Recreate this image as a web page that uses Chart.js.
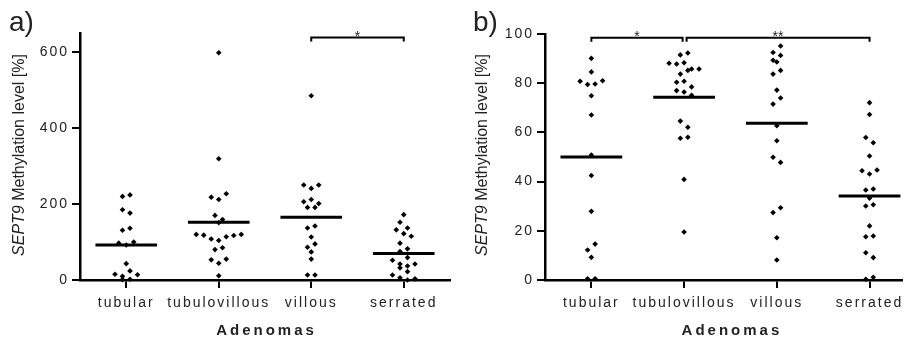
<!DOCTYPE html>
<html>
<head>
<meta charset="utf-8">
<title>SEPT9 methylation in adenomas</title>
<script src="https://cdn.jsdelivr.net/npm/chart.js@4.4.1/dist/chart.umd.min.js"></script>
<style>
  html, body { margin: 0; padding: 0; background: #fff; }
  #wrap { position: relative; width: 909px; height: 338px; }
  canvas { position: absolute; top: 0; }
  #panelA { left: 0; }
  #panelB { left: 454px; }
</style>
</head>
<body>
<div id="wrap">
  <canvas id="panelA" width="454" height="338"></canvas>
  <canvas id="panelB" width="455" height="338"></canvas>
</div>
<script>
const categories = ['tubular', 'tubulovillous', 'villous', 'serrated'];

// a) methylation level [%], one value per adenoma (read off the dot plot)
const tubularA = [220, 224, 185, 176, 131, 136, 97, 92, 100, 43, 15, 10, 24, 14, 1, 2];
const tubulovillousA = [598, 319, 218, 212, 227, 170, 151, 159, 120, 118, 108, 104, 114, 117, 120, 80, 85, 53, 44, 55, 11];
const villousA = [485, 250, 241, 250, 206, 212, 201, 191, 191, 137, 142, 113, 86, 95, 74, 55, 13, 13];
const serratedA = [172, 152, 132, 137, 122, 115, 97, 82, 75, 59, 52, 42, 32, 37, 42, 22, 13, 6, 0, 3];
const meansA = [92, 152, 165, 70];
const ticksA = [0, 200, 400, 600];

// b) methylation level [%]
const tubularB = [90.1, 84.6, 80.8, 79.5, 79.7, 81.0, 74.9, 67.1, 50.8, 42.5, 27.9, 12.2, 14.6, 9.2, 0.5, 0.5];
const tubulovillousB = [91.5, 92.3, 88.1, 87.8, 88.3, 85.8, 83.7, 85.2, 85.8, 80.4, 80.8, 77.0, 78.5, 76.4, 75.1, 64.6, 62.1, 57.6, 58.0, 40.9, 19.5];
const villousB = [92.5, 95.1, 89.3, 91.3, 88.6, 83.7, 85.2, 77.2, 71.5, 74.0, 62.7, 56.6, 49.9, 47.8, 27.4, 29.4, 17.2, 8.1];
const serratedB = [72.1, 67.3, 57.9, 55.8, 50.4, 44.4, 43.1, 44.7, 36.6, 37.0, 33.3, 30.1, 30.6, 22.0, 17.6, 17.9, 11.1, 9.1, 0.3, 1.1];
const meansB = [50, 74.3, 63.7, 34.1];
const ticksB = [0, 20, 40, 60, 80, 100];

// significance brackets
const comparisonsA = [{ from: 'villous', to: 'serrated', label: '*', level: 638 }];
const comparisonsB = [
  { from: 'tubular', to: 'tubulovillous', label: '*', level: 98.5 },
  { from: 'tubulovillous', to: 'serrated', label: '**', level: 98.5 }
];

const TEXT = '#222';
const FONT = '"Liberation Sans", Arial, sans-serif';
const DOT_STEP = 7.5;  // px between neighbouring dots in a row
const ROW_GAP = 6.5;   // px, dots closer than this share a row
const MEAN_HALF = 0.333;

Chart.defaults.font.family = FONT;
Chart.defaults.font.size = 14;
Chart.defaults.color = TEXT;

function makePanel(id, groups, means, ticks, yMax, comparisons, letter, cfg) {
  const datasets = groups.map(vals => ({
    data: vals.map(v => ({ x: 0, y: v })),
    pointStyle: 'rectRot',
    pointRadius: 2.8,
    pointBorderWidth: 0,
    backgroundColor: '#000',
    clip: false
  }));
  datasets.forEach((ds, g) => ds.data.forEach(p => { p.x = g + 1; }));

  means.forEach((m, i) => datasets.push({
    data: [{ x: i + 1 - MEAN_HALF, y: m }, { x: i + 1 + MEAN_HALF, y: m }],
    showLine: true,
    borderColor: '#000',
    borderWidth: 3,
    pointRadius: 0,
    clip: false
  }));

  const annotate = {
    id: 'annotate',
    beforeDraw(chart) {
      chart.ctx.letterSpacing = '2px';
    },
    afterDraw(chart) {
      const { ctx, scales: { x, y } } = chart;
      ctx.save();
      ctx.letterSpacing = '0px';
      ctx.fillStyle = TEXT;

      // brackets
      ctx.strokeStyle = '#000';
      ctx.lineWidth = 2;
      comparisons.forEach(c => {
        const a = categories.indexOf(c.from), b = categories.indexOf(c.to);
        let x1 = x.getPixelForValue(a + 1), x2 = x.getPixelForValue(b + 1);
        if (comparisons.some(o => o !== c && o.to === c.from)) x1 += 2.5;
        if (comparisons.some(o => o !== c && o.from === c.to)) x2 -= 1.5;
        const yy = y.getPixelForValue(c.level);
        ctx.beginPath();
        ctx.moveTo(x1, yy + 4);
        ctx.lineTo(x1, yy);
        ctx.lineTo(x2, yy);
        ctx.lineTo(x2, yy + 4);
        ctx.stroke();
        ctx.font = '14px ' + FONT;
        ctx.textAlign = 'center';
        ctx.textBaseline = 'alphabetic';
        ctx.fillText(c.label, (x1 + x2) / 2, yy + 3);
      });

      // y title with italic gene name
      ctx.translate(cfg.titleX, 155);
      ctx.rotate(-Math.PI / 2);
      ctx.textBaseline = 'middle';
      ctx.textAlign = 'left';
      const gene = 'SEPT9', rest = ' Methylation level [%]';
      ctx.font = 'italic 16px ' + FONT;
      const w1 = ctx.measureText(gene).width;
      ctx.font = '16px ' + FONT;
      const w2 = ctx.measureText(rest).width;
      ctx.font = 'italic 16px ' + FONT;
      ctx.fillText(gene, -(w1 + w2) / 2, 0);
      ctx.font = '16px ' + FONT;
      ctx.fillText(rest, -(w1 + w2) / 2 + w1, 0);
      ctx.restore();

      // x title
      ctx.save();
      ctx.fillStyle = TEXT;
      ctx.font = 'bold 15px ' + FONT;
      ctx.letterSpacing = '3px';
      ctx.textAlign = 'center';
      ctx.textBaseline = 'alphabetic';
      ctx.fillText('Adenomas', x.getPixelForValue(2.5) + 1.5, 335);

      // panel letter
      ctx.letterSpacing = '0px';
      ctx.font = '28px ' + FONT;
      ctx.textAlign = 'left';
      ctx.fillText(letter, cfg.letterX, 31);
      ctx.restore();
    }
  };

  const chart = new Chart(document.getElementById(id), {
    type: 'scatter',
    data: { datasets },
    plugins: [annotate],
    options: {
      responsive: false,
      animation: false,
      devicePixelRatio: 1,
      layout: { padding: { top: cfg.top, right: cfg.right, left: 0, bottom: 0 } },
      plugins: { legend: { display: false }, tooltip: { enabled: false } },
      scales: {
        x: {
          type: 'linear',
          min: 0.5,
          max: cfg.xMax,
          afterBuildTicks: s => { s.ticks = categories.map((c, i) => ({ value: i + 1 })); },
          afterFit: s => { s.height = 58; },
          border: { color: '#000', width: 2.5 },
          grid: { drawOnChartArea: false, color: '#000', lineWidth: 2, tickLength: 8 },
          ticks: { callback: (v, i) => categories[i], padding: 7, maxRotation: 0, autoSkip: false, color: TEXT }
        },
        y: {
          min: 0,
          max: yMax,
          afterBuildTicks: s => { s.ticks = ticks.map(v => ({ value: v })); },
          afterFit: s => { s.width = cfg.axisLeft; },
          border: { color: '#000', width: 2.5 },
          grid: { drawOnChartArea: false, color: '#000', lineWidth: 2, tickLength: 8 },
          ticks: { padding: 3, color: TEXT }
        }
      }
    }
  });

  // spread overlapping dots sideways into centred rows, like a dot plot
  const xs = chart.scales.x, ys = chart.scales.y;
  const unit = xs.getPixelForValue(2) - xs.getPixelForValue(1);
  groups.forEach((vals, g) => {
    const order = vals.map((v, i) => i).sort((a, b) => vals[b] - vals[a]);
    const rows = [];
    let row = null, top = 0;
    order.forEach(i => {
      const py = ys.getPixelForValue(vals[i]);
      if (!row || py - top > ROW_GAP) { row = []; rows.push(row); top = py; }
      row.push(i);
    });
    rows.forEach(r => {
      r.sort((a, b) => a - b);
      r.forEach((i, k) => {
        chart.data.datasets[g].data[i].x = g + 1 + (k - (r.length - 1) / 2) * DOT_STEP / unit;
      });
    });
  });
  chart.update('none');
  return chart;
}

makePanel('panelA', [tubularA, tubulovillousA, villousA, serratedA], meansA, ticksA, 650, comparisonsA, 'a)',
  { axisLeft: 80, top: 33, right: 2, xMax: 4.5, titleX: 20, letterX: 9 });
makePanel('panelB', [tubularB, tubulovillousB, villousB, serratedB], meansB, ticksB, 100, comparisonsB, 'b)',
  { axisLeft: 91, top: 34, right: 7, xMax: 4.35, titleX: 29, letterX: 19 });
</script>
</body>
</html>
